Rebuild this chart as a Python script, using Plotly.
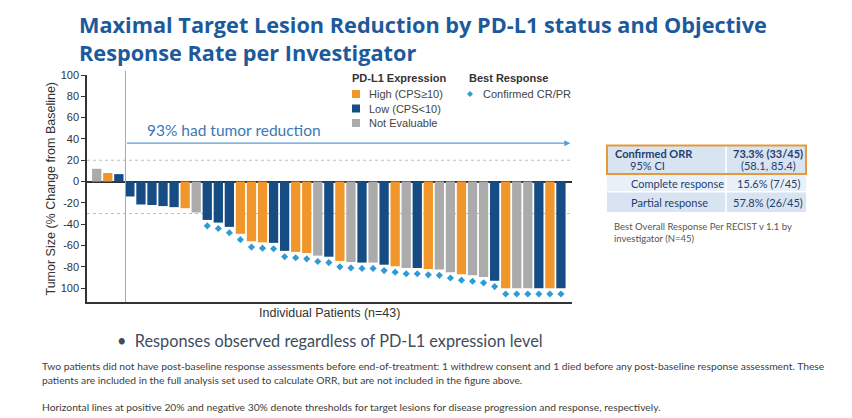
import plotly.graph_objects as go

# ---------------- data ----------------
patients = list(range(1, 44))
pct_change = [12, 8, 7, -14, -21.5, -22, -23, -24, -25, -29,
              -36, -38.5, -42.5, -49, -56, -57, -57.5, -65, -66, -67,
              -69.5, -70.5, -74.5, -75.5, -76, -76, -78, -79.5, -81, -81,
              -82, -82.5, -85, -87, -88, -89.5, -93, -100, -100, -100,
              -100, -100, -100]
pdl1_status = ["NE", "High", "Low", "Low", "Low", "Low", "Low", "Low", "High", "NE",
               "Low", "Low", "Low", "High", "High", "High", "Low", "Low", "High", "High",
               "NE", "Low", "High", "NE", "Low", "NE", "Low", "High", "NE", "Low",
               "High", "NE", "NE", "High", "NE", "NE", "Low", "High", "NE", "NE",
               "Low", "High", "Low"]
confirmed_cr_pr = [0, 0, 0, 0, 0, 0, 0, 0, 0, 0,
                   1, 1, 1, 1, 1, 1, 1, 1, 1, 1,
                   1, 1, 1, 1, 1, 1, 1, 1, 1, 1,
                   1, 1, 1, 1, 1, 1, 1, 1, 1, 1,
                   1, 1, 1]
status_order = ["High", "Low", "NE"]
status_labels = {"High": "High (CPS≥10)", "Low": "Low (CPS<10)", "NE": "Not Evaluable"}
status_colors = {"High": "#F0962A", "Low": "#154C84", "NE": "#ABABAB"}
diamond_color = "#2E9BD6"

ytick_vals = [100, 80, 60, 40, 20, 0, -20, -40, -60, -80, -100]
ytick_text = ["100", "80", "60", "40", "20", "0", "-20", "-40", "-60", "-80", "100"]

threshold_progression = 20
threshold_response = -30
tumor_reduction_text = "93% had tumor reduction"

table_rows = [
    ("<b>Confirmed ORR</b>", "<b>73.3% (33/45)</b>"),
    ("95% CI", "(58.1, 85.4)"),
    ("Complete response", "15.6% (7/45)"),
    ("Partial response", "57.8% (26/45)"),
]

# ---------------- layout helpers ----------------
W, H = 852, 418
L, R, T, B = 87, 572, 75, 302


def xp(px):
    return (px - L) / (R - L)


def yp(py):
    return (B - py) / (B - T)


fig = go.Figure()

for st in status_order:
    xs = [p for p, s in zip(patients, pdl1_status) if s == st]
    ys = [v for v, s in zip(pct_change, pdl1_status) if s == st]
    fig.add_trace(go.Bar(x=xs, y=ys, name=status_labels[st],
                         marker=dict(color=status_colors[st], line=dict(width=0)),
                         showlegend=False))

dx = [p for p, c in zip(patients, confirmed_cr_pr) if c]
dy = [v - 5.5 for v, c in zip(pct_change, confirmed_cr_pr) if c]
fig.add_trace(go.Scatter(x=dx, y=dy, mode="markers", name="Confirmed CR/PR",
                         marker=dict(symbol="diamond", size=5.5, color=diamond_color),
                         showlegend=False))

shapes = []
for yv in (threshold_progression, threshold_response):
    shapes.append(dict(type="line", xref="paper", yref="y", x0=0, x1=1, y0=yv, y1=yv,
                       line=dict(color="#BDBDBD", width=1, dash="dot"), layer="below"))
shapes.append(dict(type="line", xref="x", yref="paper", x0=3.6, x1=3.6, y0=0, y1=yp(71),
                   line=dict(color="#7FB2DE", width=1)))

for i, st in enumerate(status_order):
    cy = 94 + i * 14.5
    shapes.append(dict(type="rect", xref="paper", yref="paper",
                       x0=xp(352), x1=xp(360), y0=yp(cy + 4), y1=yp(cy - 4),
                       fillcolor=status_colors[st], line=dict(width=0)))
cx, cy, r = 470, 94, 3
shapes.append(dict(type="path", xref="paper", yref="paper",
                   path=f"M {xp(cx)},{yp(cy - r)} L {xp(cx + r)},{yp(cy)} L {xp(cx)},{yp(cy + r)} L {xp(cx - r)},{yp(cy)} Z",
                   fillcolor=diamond_color, line=dict(width=0)))

tl, tm, tr = 607, 726, 806
shapes.append(dict(type="rect", xref="paper", yref="paper", x0=xp(tl), x1=xp(tr),
                   y0=yp(191), y1=yp(175), fillcolor="#EAF0F8", line=dict(width=0)))
shapes.append(dict(type="rect", xref="paper", yref="paper", x0=xp(tl), x1=xp(tr),
                   y0=yp(212), y1=yp(192.5), fillcolor="#D8E4F1", line=dict(width=0)))
shapes.append(dict(type="rect", xref="paper", yref="paper", x0=xp(tl), x1=xp(tr),
                   y0=yp(173.5), y1=yp(146), fillcolor="#D8E4F1", line=dict(width=0)))
shapes.append(dict(type="line", xref="paper", yref="paper", x0=xp(tm), x1=xp(tm),
                   y0=yp(212), y1=yp(146), line=dict(color="white", width=1.5)))
shapes.append(dict(type="rect", xref="paper", yref="paper", x0=xp(tl), x1=xp(tr),
                   y0=yp(174), y1=yp(145.5), fillcolor="rgba(0,0,0,0)",
                   line=dict(color="#E59A3A", width=2)))

ann = []
body_font = "Lato"


def text_ann(px, py, text, font, xanchor="left", yanchor="middle", **kw):
    d = dict(x=xp(px), y=yp(py), xref="paper", yref="paper", xanchor=xanchor, yanchor=yanchor,
             showarrow=False, text=text, font=font)
    d.update(kw)
    ann.append(d)


text_ann(77, 8, "<b>Maximal Target Lesion Reduction by PD-L1 status and Objective<br>Response Rate per Investigator</b>",
         dict(family="Open Sans", size=21.7, color="#1C5A9C"), yanchor="top", align="left")
ann.append(dict(x=43.85, y=36, ax=3.6, ay=36, xref="x", yref="y", axref="x", ayref="y",
                showarrow=True, arrowhead=2, arrowsize=1, arrowwidth=1.2, arrowcolor="#5B9BD5",
                text=""))
text_ann(145, 130, tumor_reduction_text, dict(family=body_font, size=15.5, color="#3C78B5"))

af = dict(family="Liberation Sans, Arial", size=12.5, color="#333333")
text_ann(50, 188.5, "Tumor Size (% Change from Baseline)", af, xanchor="center", textangle=-90)
text_ann(329.5, 313, "Individual Patients (n=43)", af, xanchor="center")

lf = "Liberation Sans, Arial"
text_ann(350, 78, "<b>PD-L1 Expression</b>", dict(family=lf, size=11, color="#333333"))
text_ann(467, 78, "<b>Best Response</b>", dict(family=lf, size=11, color="#333333"))
for i, st in enumerate(status_order):
    text_ann(367, 94 + i * 14.5, status_labels[st], dict(family=lf, size=11, color="#444444"))
text_ann(481, 94, "Confirmed CR/PR", dict(family=lf, size=11, color="#444444"))

tf = dict(family=body_font, size=11, color="#24406E")
row_y = [153, 165.5, 183, 202.5]
row_x = [613, 628, 629, 629]
for (lt, rt), yy, xx in zip(table_rows, row_y, row_x):
    text_ann(xx, yy, lt, tf)
    text_ann(768, yy, rt, tf, xanchor="center")
text_ann(612, 219, "Best Overall Response Per RECIST v 1.1 by<br>investigator (N=45)",
         dict(family=body_font, size=9.5, color="#555555"), yanchor="top", align="left")

text_ann(115, 340, "•  Responses observed regardless of PD-L1 expression level",
         dict(family=body_font, size=16.3, color="#3E4C5C"))

ff = dict(family=body_font, size=10.3, color="#404040")
text_ann(40, 366, "Two patients did not have post-baseline response assessments before end-of-treatment: 1 withdrew consent and 1 died before any post-baseline response assessment. These", ff)
text_ann(40, 380, "patients are included in the full analysis set used to calculate ORR, but are not included in the figure above.", ff)
text_ann(40, 407, "Horizontal lines at positive 20% and negative 30% denote thresholds for target lesions for disease progression and response, respectively.", ff)

fig.update_layout(
    width=W, height=H,
    margin=dict(l=L, r=W - R, t=T, b=H - B, pad=0),
    paper_bgcolor="white", plot_bgcolor="white",
    barmode="overlay", bargap=0.16,
    showlegend=False,
    shapes=shapes, annotations=ann,
    xaxis=dict(range=[0.12, 44.0], showticklabels=False, ticks="", showgrid=False, zeroline=False,
               showline=True, linecolor="#333333", linewidth=1.5),
    yaxis=dict(range=[-113, 100], tickvals=ytick_vals, ticktext=ytick_text, ticks="outside",
               ticklen=4, tickcolor="#333333", tickwidth=1, showgrid=False,
               zeroline=True, zerolinecolor="#333333", zerolinewidth=1.5,
               showline=True, linecolor="#333333", linewidth=1.5,
               tickfont=dict(family="Liberation Sans, Arial", size=11, color="#333333")),
)

fig.write_html("out.html")
